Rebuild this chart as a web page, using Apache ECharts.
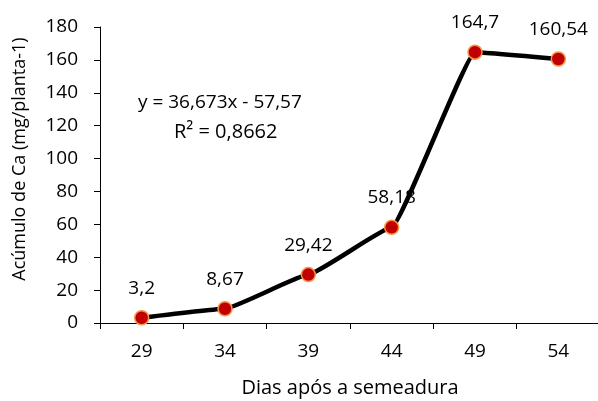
<!DOCTYPE html>
<html><head><meta charset="utf-8">
<script src="https://cdn.jsdelivr.net/npm/echarts@6/dist/echarts.min.js"></script>
<style>html,body{margin:0;padding:0;background:#fff}#c{width:598px;height:401px}</style>
</head><body><div id="c"></div>
<script>
const categories = ['29','34','39','44','49','54'];
const values = [3.2, 8.67, 29.42, 58.18, 164.7, 160.54];
const yTicks = [0,20,40,60,80,100,120,140,160,180];
const equation = 'y = 36,673x - 57,57';
const r2 = 'R² = 0,8662';
const yName = 'Acúmulo de Ca (mg/planta-1)';
const xName = 'Dias após a semeadura';
const FONT = '"Open Sans", "Noto Sans", sans-serif';
const FS = 19;
const chart = echarts.init(document.getElementById('c'));
chart.setOption({
  animation:false,
  textStyle:{fontFamily:FONT},
  grid:{left:100,right:-2,top:27,bottom:78,containLabel:false,outerBoundsMode:'none'},
  xAxis:{type:'category',data:categories,boundaryGap:true,
    name:xName,nameLocation:'middle',nameGap:55,
    nameTextStyle:{fontSize:20,color:'#000',fontFamily:FONT},
    axisLine:{lineStyle:{color:'#000',width:1}},
    axisTick:{show:true,length:6,inside:false,lineStyle:{color:'#000'},alignWithLabel:false},
    axisLabel:{fontSize:FS,color:'#000',margin:19,fontFamily:FONT},
    splitLine:{show:false}},
  yAxis:{type:'value',min:yTicks[0],max:yTicks[yTicks.length-1],interval:20,
    axisLine:{show:true,lineStyle:{color:'#000',width:1}},
    axisTick:{show:true,length:6,lineStyle:{color:'#000'}},
    axisLabel:{fontSize:FS,color:'#000',margin:22,fontFamily:FONT},
    splitLine:{show:false}},
  series:[{type:'line',data:values,smooth:0.1,smoothMonotone:'x',
    lineStyle:{color:'#000',width:4.5},
    symbol:'circle',symbolSize:14,
    itemStyle:{color:'#C00000',borderColor:'#F79646',borderWidth:1.5},
    label:{show:true,position:'top',distance:12,fontSize:FS,color:'#000',fontFamily:FONT,
      formatter:p=>String(p.value).replace('.',',')},
    z:3}],
  graphic:[
    {type:'text',x:20,y:159,rotation:Math.PI/2,
      style:{text:yName,fontSize:18,fill:'#000',fontFamily:FONT,align:'center',verticalAlign:'middle'}},
    {type:'text',left:138,top:93,style:{text:equation,fontSize:FS,fill:'#000',fontFamily:FONT}},
    {type:'text',left:174,top:122,style:{text:r2,fontSize:20,fill:'#000',fontFamily:FONT}}
  ]
});
</script></body></html>
